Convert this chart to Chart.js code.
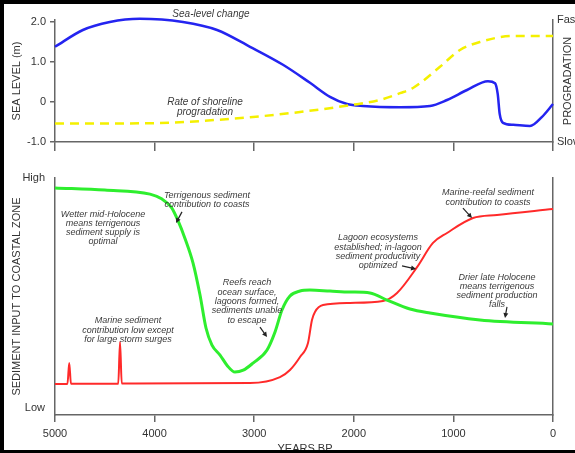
<!DOCTYPE html>
<html>
<head>
<meta charset="utf-8">
<script src="https://cdn.jsdelivr.net/npm/chart.js@4"></script>
<style>
  html, body { margin: 0; padding: 0; background: #000; width: 575px; height: 453px; overflow: hidden; }
  #frame { position: absolute; left: 4px; top: 4px; width: 571px; height: 446px; background: #fff; overflow: hidden; }
  #top { position: absolute; left: 0; top: 0; }
  #bottom { position: absolute; left: 0; top: 156px; }
</style>
</head>
<body>
<div id="frame">
  <canvas id="top" width="571" height="156"></canvas>
  <canvas id="bottom" width="571" height="290"></canvas>
</div>
<script>
// years BP on the x axis (5000 on the left, 0 on the right)
const yearTicks = [5000, 4000, 3000, 2000, 1000, 0];

// top panel: sea level (m)
const seaYears = [5000, 4720, 4450, 4150, 3715, 3373, 3042, 2711, 2440, 2239, 2068, 1908, 1536, 1235, 1064, 863, 653, 582, 555, 535, 502, 400, 231, 110, 0];
const seaLevel = [1.38, 1.8, 2.0, 2.08, 2.0, 1.8, 1.38, 0.93, 0.48, 0.13, -0.05, -0.1, -0.13, -0.1, 0.05, 0.3, 0.52, 0.47, 0.2, -0.3, -0.52, -0.57, -0.6, -0.37, -0.05];

// top panel: rate of shoreline progradation (drawn on the Slow..Fast axis)
const progYears = [5000, 4046, 3042, 2540, 2038, 1737, 1536, 1406, 1135, 934, 733, 402, 0];
const progRate = [-0.54, -0.53, -0.38, -0.25, -0.08, 0.05, 0.22, 0.35, 0.88, 1.3, 1.5, 1.65, 1.65];

// bottom panel: sediment input (0 = Low, 100 = High)
const terrYears = [5000, 4500, 4046, 3930, 3830, 3765, 3695, 3614, 3544, 3484, 3424, 3343, 3270, 3193, 3110, 3012, 2871, 2791, 2721, 2641, 2540, 2440, 2239, 2038, 1837, 1667, 1436, 1235, 733, 0];
const terrInput = [95.8, 94.9, 93.2, 91.2, 87.5, 82.0, 74.5, 64.1, 50.6, 36.7, 29.5, 25.3, 20.8, 18.1, 18.9, 21.9, 27.4, 35, 44.3, 50.2, 52.3, 52.7, 52.3, 51.9, 51.5, 48.5, 44.7, 43.0, 40.1, 38.4];

const marineYears = [5000, 4875, 4857, 4840, 4365, 4347, 4330, 3042, 2741, 2641, 2540, 2460, 2420, 2390, 2309, 2038, 1707, 1566, 1365, 1205, 1064, 803, 562, 0];
const marineInput = [13.1, 13.1, 21.9, 13.2, 13.2, 30.8, 13.3, 13.5, 16.0, 19.0, 24.5, 30.4, 40.1, 43.5, 46.4, 47.3, 48.1, 51.5, 62.4, 72.6, 76.8, 83.1, 84.4, 86.9];

const topNotes = [
  { lines: ['Sea-level change'], year: 3434, value: 2.2, size: 10 },
  { lines: ['Rate of shoreline', 'progradation'], year: 3494, value: 0.0, size: 10 }
];

const bottomNotes = [
  { lines: ['Terrigenous sediment', 'contribution to coasts'], year: 3474, value: 92.8, arrow: [3725, 85.7, 3785, 81.0] },
  { lines: ['Wetter mid-Holocene', 'means terrigenous', 'sediment supply is', 'optimal'], year: 4518, value: 84.8 },
  { lines: ['Marine sediment', 'contribution low except', 'for large storm surges'], year: 4267, value: 39.7 },
  { lines: ['Reefs reach', 'ocean surface,', 'lagoons formed,', 'sediments unable', 'to escape'], year: 3072, value: 55.7, arrow: [2942, 37.1, 2871, 32.9] },
  { lines: ['Lagoon ecosystems', 'established; in-lagoon', 'sediment productivity', 'optimized'], year: 1757, value: 74.7, arrow: [1516, 62.9, 1375, 61.6] },
  { lines: ['Marine-reefal sediment', 'contribution to coasts'], year: 653, value: 93.7, arrow: [904, 87.3, 813, 83.1] },
  { lines: ['Drier late Holocene', 'means terrigenous', 'sediment production', 'falls'], year: 562, value: 58.2, arrow: [462, 45.6, 482, 40.9] }
];

Chart.defaults.font.family = '"Liberation Sans", Arial, sans-serif';
Chart.defaults.font.size = 11;
Chart.defaults.color = '#333';

const axisGray = '#666';

function pts(xs, ys) {
  return xs.map((x, i) => ({ x: x, y: ys[i] }));
}

function drawNotes(chart, notes) {
  const ctx = chart.ctx;
  const xs = chart.scales.x;
  const ys = chart.scales.y;
  ctx.save();
  ctx.textAlign = 'center';
  ctx.textBaseline = 'middle';
  notes.forEach(n => {
    const size = n.size || 9;
    ctx.font = 'italic ' + size + 'px "Liberation Sans", Arial, sans-serif';
    ctx.fillStyle = '#3a3a3a';
    const px = xs.getPixelForValue(n.year);
    const py = ys.getPixelForValue(n.value);
    n.lines.forEach((t, i) => ctx.fillText(t, px, py + i * (size + 0.3)));
    if (n.arrow) {
      const x1 = xs.getPixelForValue(n.arrow[0]), y1 = ys.getPixelForValue(n.arrow[1]);
      const x2 = xs.getPixelForValue(n.arrow[2]), y2 = ys.getPixelForValue(n.arrow[3]);
      const ang = Math.atan2(y2 - y1, x2 - x1);
      ctx.strokeStyle = '#222';
      ctx.fillStyle = '#222';
      ctx.lineWidth = 1.2;
      ctx.beginPath();
      ctx.moveTo(x1, y1);
      ctx.lineTo(x2 - 3 * Math.cos(ang), y2 - 3 * Math.sin(ang));
      ctx.stroke();
      ctx.beginPath();
      ctx.moveTo(x2, y2);
      ctx.lineTo(x2 - 5 * Math.cos(ang) + 2.5 * Math.sin(ang), y2 - 5 * Math.sin(ang) - 2.5 * Math.cos(ang));
      ctx.lineTo(x2 - 5 * Math.cos(ang) - 2.5 * Math.sin(ang), y2 - 5 * Math.sin(ang) + 2.5 * Math.cos(ang));
      ctx.closePath();
      ctx.fill();
    }
  });
  ctx.restore();
}

const xAxis = (height, tickLen, showLabels) => ({
  type: 'linear',
  reverse: true,
  min: 0,
  max: 5000,
  afterBuildTicks: s => { s.ticks = yearTicks.map(v => ({ value: v })); },
  afterFit: s => { s.height = height; },
  grid: { display: true, drawOnChartArea: false, drawTicks: true, tickLength: tickLen, color: axisGray, lineWidth: 1.5 },
  border: { display: true, color: axisGray, width: 1.5 },
  ticks: { display: showLabels, padding: 5, maxRotation: 0, callback: v => String(v) }
});

// top panel
new Chart(document.getElementById('top').getContext('2d'), {
  type: 'line',
  data: {
    datasets: [
      {
        label: 'Rate of shoreline progradation',
        data: pts(progYears, progRate),
        yAxisID: 'y1',
        borderColor: '#f4f000',
        borderWidth: 2.5,
        borderDash: [9, 6],
        pointRadius: 0,
        cubicInterpolationMode: 'monotone',
        clip: false,
        fill: false
      },
      {
        label: 'Sea-level change',
        data: pts(seaYears, seaLevel),
        yAxisID: 'y',
        borderColor: '#2424f0',
        borderWidth: 2.5,
        pointRadius: 0,
        cubicInterpolationMode: 'monotone',
        clip: false,
        fill: false
      }
    ]
  },
  options: {
    responsive: false,
    animation: false,
    layout: { padding: { top: 16, left: 0, right: 0, bottom: 0 } },
    plugins: { legend: { display: false }, tooltip: { enabled: false } },
    scales: {
      x: xAxis(18, 9, false),
      y: {
        position: 'left',
        min: -1,
        max: 2.05,
        afterBuildTicks: s => { s.ticks = [-1, 0, 1, 2].map(v => ({ value: v })); },
        afterFit: s => { s.width = 51; },
        grid: { display: true, drawOnChartArea: false, drawTicks: true, tickLength: 5, color: axisGray, lineWidth: 1.5 },
        border: { display: true, color: axisGray, width: 1.5 },
        ticks: { padding: 4, callback: v => v === 0 ? '0' : v.toFixed(1) },
        title: { display: true, text: 'SEA LEVEL (m)', padding: { top: 6, bottom: 0 }, font: { size: 11 } }
      },
      y1: {
        position: 'right',
        min: -1,
        max: 2.05,
        afterBuildTicks: s => { s.ticks = [{ value: -1 }, { value: 2.05 }]; },
        afterFit: s => { s.width = 22; },
        grid: { display: false, drawTicks: false },
        border: { display: true, color: axisGray, width: 1.5 },
        ticks: { padding: 4, callback: v => v > 0 ? 'Fast' : 'Slow' }
      }
    }
  },
  plugins: [{
    id: 'topExtras',
    afterDraw: chart => {
      drawNotes(chart, topNotes);
      const ctx = chart.ctx;
      const a = chart.chartArea;
      ctx.save();
      ctx.font = '11px "Liberation Sans", Arial, sans-serif';
      ctx.fillStyle = '#333';
      ctx.textAlign = 'center';
      ctx.textBaseline = 'middle';
      ctx.translate(564, (a.top + a.bottom) / 2);
      ctx.rotate(-Math.PI / 2);
      ctx.fillText('PROGRADATION', 0, 0);
      ctx.restore();
    }
  }]
});

// bottom panel
new Chart(document.getElementById('bottom').getContext('2d'), {
  type: 'line',
  data: {
    datasets: [
      {
        label: 'Terrigenous sediment',
        data: pts(terrYears, terrInput),
        borderColor: '#2eee2e',
        borderWidth: 3,
        pointRadius: 0,
        cubicInterpolationMode: 'monotone',
        fill: false
      },
      {
        label: 'Marine sediment',
        data: pts(marineYears, marineInput),
        borderColor: '#ff2a2a',
        borderWidth: 2,
        pointRadius: 0,
        cubicInterpolationMode: 'monotone',
        fill: false
      }
    ]
  },
  options: {
    responsive: false,
    animation: false,
    layout: { padding: { top: 18, left: 0, right: 0, bottom: 0 } },
    plugins: { legend: { display: false }, tooltip: { enabled: false } },
    scales: {
      x: xAxis(35, 7, true),
      y: {
        position: 'left',
        min: 0,
        max: 100,
        afterBuildTicks: s => { s.ticks = [{ value: 3 }, { value: 100 }]; },
        afterFit: s => { s.width = 51; },
        grid: { display: false, drawTicks: false },
        border: { display: true, color: axisGray, width: 1.5 },
        ticks: { padding: 10, callback: v => v > 50 ? 'High' : 'Low' },
        title: { display: true, text: 'SEDIMENT INPUT TO COASTAL ZONE', padding: { top: 6, bottom: 0 }, font: { size: 11 } }
      },
      y2: {
        position: 'right',
        min: 0,
        max: 100,
        afterFit: s => { s.width = 22; },
        grid: { display: false, drawTicks: false },
        border: { display: true, color: axisGray, width: 1.5 },
        ticks: { display: false }
      }
    }
  },
  plugins: [{
    id: 'bottomExtras',
    afterDraw: chart => {
      drawNotes(chart, bottomNotes);
      const ctx = chart.ctx;
      ctx.save();
      ctx.font = '11px "Liberation Sans", Arial, sans-serif';
      ctx.fillStyle = '#333';
      ctx.textAlign = 'center';
      ctx.textBaseline = 'top';
      ctx.fillText('YEARS BP', 301, 283);
      ctx.restore();
    }
  }]
});
</script>
</body>
</html>
